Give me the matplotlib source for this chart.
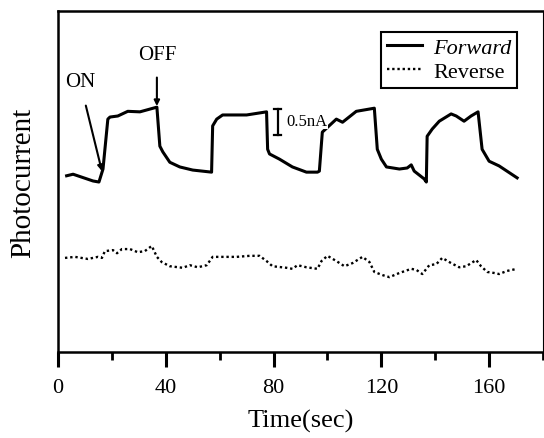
import matplotlib
matplotlib.use("Agg")
import matplotlib.pyplot as plt

# ---- data (time in s, photocurrent in nA, arbitrary offset) ----
fwd_t = [3.2, 5.6, 13.0, 15.2, 16.7, 18.5, 19.3, 22.2, 25.9, 30.4, 36.7,
         37.8, 38.9, 41.5, 45.2, 50.0, 57.0, 57.4, 58.9, 61.1, 70.0, 77.4,
         77.8, 78.5, 82.2, 87.0, 92.2, 96.3, 97.0, 98.1, 103.3, 105.6, 110.7,
         117.4, 118.5, 120.0, 121.9, 126.7, 129.6, 131.1, 132.2, 135.9, 136.7,
         137.0, 138.9, 141.5, 145.9, 147.8, 150.7, 153.3, 155.9, 157.4, 160.0,
         163.7, 170.4]
fwd_v = [3.39, 3.42, 3.29, 3.27, 3.52, 4.48, 4.52, 4.54, 4.63, 4.62, 4.71,
         3.96, 3.85, 3.65, 3.56, 3.50, 3.46, 4.35, 4.48, 4.56, 4.56, 4.62,
         3.90, 3.81, 3.71, 3.56, 3.46, 3.46, 3.48, 4.23, 4.48, 4.42, 4.63,
         4.69, 3.90, 3.71, 3.56, 3.52, 3.54, 3.60, 3.48, 3.33, 3.27,
         4.15, 4.29, 4.44, 4.58, 4.54, 4.44, 4.54, 4.62, 3.90, 3.67,
         3.58, 3.35]

rev_t = [2.6, 6.3, 11.1, 14.8, 16.3, 17.4, 20.4, 21.9, 23.7, 26.7, 29.6, 32.2,
         34.8, 36.7, 38.5, 41.5, 46.3, 48.9, 51.9, 55.2, 57.4, 60.0, 66.3,
         71.1, 74.8, 77.4, 79.6, 84.8, 87.0, 88.9, 92.2, 96.3, 97.8, 100.0,
         103.3, 106.3, 109.3, 113.0, 115.6, 117.4, 120.4, 123.0, 126.7, 131.1,
         133.0, 135.2, 137.8, 140.4, 142.6, 145.9, 148.9, 151.5, 155.2, 157.0,
         159.3, 161.9, 163.7, 166.7, 170.4]
rev_v = [1.81, 1.83, 1.79, 1.83, 1.81, 1.94, 1.96, 1.90, 1.98, 1.98, 1.92, 1.94,
         2.04, 1.83, 1.73, 1.65, 1.62, 1.67, 1.63, 1.67, 1.83, 1.83, 1.83,
         1.85, 1.85, 1.75, 1.65, 1.62, 1.60, 1.67, 1.63, 1.60, 1.75, 1.85,
         1.75, 1.65, 1.71, 1.83, 1.73, 1.54, 1.48, 1.44, 1.52, 1.60,
         1.58, 1.50, 1.67, 1.69, 1.81, 1.71, 1.63, 1.65, 1.77, 1.65,
         1.54, 1.52, 1.50, 1.56, 1.60]

xticks = [0, 40, 80, 120, 160]
minor_xticks = [20, 60, 100, 140, 180]

plt.rcParams['font.family'] = ['Liberation Serif', 'DejaVu Serif']

fig = plt.figure(figsize=(5.44, 4.39), dpi=100)
ax = fig.add_axes([58/544, 1-353/439, (543-58)/544, (353-12)/439])

ax.plot(fwd_t, fwd_v, color='black', lw=2.2, solid_joinstyle='round',
        label='Forward')
ax.plot(rev_t, rev_v, color='black', lw=1.7, linestyle=(0, (1, 1.2)),
        label='Reverse')

ax.set_xlim(0, 180)
ax.set_ylim(0, 6.56)
ax.set_xticks(xticks)
ax.set_xticklabels([str(t) for t in xticks], fontsize=16)
ax.set_xticks(minor_xticks, minor=True)
ax.set_yticks([])
ax.tick_params(axis='x', which='major', direction='out', length=11, width=2.2, pad=8)
ax.tick_params(axis='x', which='minor', direction='out', length=6, width=2.0)

for side in ['left', 'bottom', 'top']:
    ax.spines[side].set_linewidth(1.8)
ax.spines['right'].set_linewidth(0.8)

ax.set_xlabel('Time(sec)', fontsize=19, labelpad=8)
ax.set_ylabel('Photocurrent', fontsize=21, labelpad=16)

leg = ax.legend(loc='upper right', bbox_to_anchor=((517-58)/485, 1-(33-12)/341),
                fontsize=16, frameon=True, fancybox=False, framealpha=1,
                edgecolor='black', handlelength=1.6, handletextpad=0.5,
                borderpad=0.25, labelspacing=0.15, borderaxespad=0)
leg.get_frame().set_linewidth(1.5)
leg.get_texts()[0].set_fontstyle('italic')

# annotations
ax.annotate('ON', xy=(16.3, 3.48), xytext=(8.1, 5.21), fontsize=15,
            ha='center', va='center',
            arrowprops=dict(arrowstyle='-|>', color='black', lw=1.5,
                            mutation_scale=8, shrinkA=9, shrinkB=0))
ax.annotate('OFF', xy=(36.7, 4.73), xytext=(36.7, 5.73), fontsize=15,
            ha='center', va='center',
            arrowprops=dict(arrowstyle='-|>', color='black', lw=1.5,
                            mutation_scale=8, shrinkA=8, shrinkB=0))

# scale bar 0.5 nA
sb_t = 81.5
ax.plot([sb_t, sb_t], [4.17, 4.67], color='black', lw=1.6)
ax.plot([sb_t - 1.2, sb_t + 1.2], [4.67, 4.67], color='black', lw=1.6)
ax.plot([sb_t - 1.2, sb_t + 1.2], [4.17, 4.17], color='black', lw=1.6)
ax.text(sb_t + 3.3, 4.45, '0.5nA', fontsize=12, ha='left', va='center',
        bbox=dict(facecolor='white', edgecolor='none', pad=0.5))

fig.savefig('out.png', dpi=100)
